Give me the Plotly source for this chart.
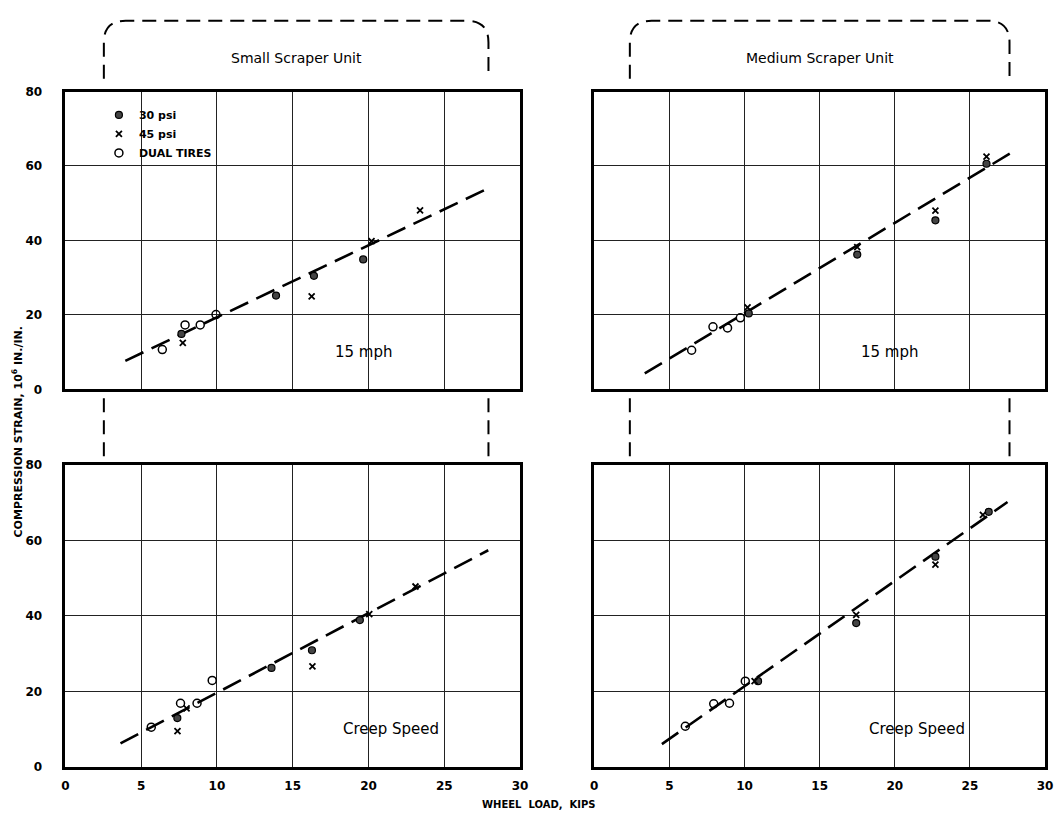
import plotly.graph_objects as go

W, H = 1062, 819

# ---------------- data ----------------
# Small scraper unit, 15 mph
sm15_p30_x = [7.66, 13.9, 16.4, 19.65]
sm15_p30_y = [14.9, 25.2, 30.5, 34.9]
sm15_p45_x = [7.75, 16.25, 20.2, 23.4]
sm15_p45_y = [12.5, 25.0, 39.8, 48.1]
sm15_dual_x = [6.4, 7.9, 8.9, 9.94]
sm15_dual_y = [10.7, 17.3, 17.3, 20.1]
sm15_fit_x = [3.96, 27.7]
sm15_fit_y = [7.65, 53.6]

# Medium scraper unit, 15 mph
md15_p30_x = [10.28, 17.5, 22.7, 26.1]
md15_p30_y = [20.4, 36.2, 45.4, 60.6]
md15_p45_x = [10.2, 17.5, 22.7, 26.1]
md15_p45_y = [22.0, 38.2, 48.0, 62.5]
md15_dual_x = [6.48, 7.9, 8.87, 9.72]
md15_dual_y = [10.5, 16.8, 16.5, 19.2]
md15_fit_x = [3.36, 28.1]
md15_fit_y = [4.3, 64.4]

# Small scraper unit, creep speed
smcr_p30_x = [7.39, 13.6, 16.27, 19.43]
smcr_p30_y = [12.9, 26.2, 30.9, 38.9]
smcr_p45_x = [7.4, 8.0, 16.3, 20.05, 23.1]
smcr_p45_y = [9.45, 15.5, 26.6, 40.5, 47.8]
smcr_dual_x = [5.67, 7.6, 8.69, 9.69]
smcr_dual_y = [10.5, 16.85, 16.85, 22.9]
smcr_fit_x = [3.64, 27.9]
smcr_fit_y = [6.2, 57.4]

# Medium scraper unit, creep speed
mdcr_p30_x = [10.9, 17.43, 22.7, 26.25]
mdcr_p30_y = [22.7, 38.1, 55.7, 67.6]
mdcr_p45_x = [10.67, 17.43, 22.7, 25.86]
mdcr_p45_y = [22.7, 40.3, 53.6, 66.8]
mdcr_dual_x = [6.06, 7.95, 9.0, 10.05]
mdcr_dual_y = [10.75, 16.7, 16.85, 22.7]
mdcr_fit_x = [4.5, 27.5]
mdcr_fit_y = [6.0, 70.2]

x_ticks = [0, 5, 10, 15, 20, 25, 30]
y_ticks = [0, 20, 40, 60, 80]
unit_titles = ["Small Scraper Unit", "Medium Scraper Unit"]
speed_labels = ["15 mph", "15 mph", "Creep Speed", "Creep Speed"]
series_names = ["30 psi", "45 psi", "DUAL TIRES"]

panels = [
    (sm15_p30_x, sm15_p30_y, sm15_p45_x, sm15_p45_y, sm15_dual_x, sm15_dual_y, sm15_fit_x, sm15_fit_y),
    (md15_p30_x, md15_p30_y, md15_p45_x, md15_p45_y, md15_dual_x, md15_dual_y, md15_fit_x, md15_fit_y),
    (smcr_p30_x, smcr_p30_y, smcr_p45_x, smcr_p45_y, smcr_dual_x, smcr_dual_y, smcr_fit_x, smcr_fit_y),
    (mdcr_p30_x, mdcr_p30_y, mdcr_p45_x, mdcr_p45_y, mdcr_dual_x, mdcr_dual_y, mdcr_fit_x, mdcr_fit_y),
]

# ---------------- layout helpers ----------------
def px(x):
    return x / W

def py(y):
    return 1 - y / H

FONT = "DejaVu Sans"
xdoms = [(px(62), px(522)), (px(597), px(1053))]
ydoms = [(py(389), py(86)), (py(773), py(466))]

fig = go.Figure()

for i, (p30x, p30y, p45x, p45y, dx, dy, fx, fy) in enumerate(panels):
    n = "" if i == 0 else str(i + 1)
    xa, ya = "x" + n, "y" + n
    show = i == 0
    fig.add_trace(go.Scatter(x=fx, y=fy, mode="lines", xaxis=xa, yaxis=ya,
                             line=dict(color="black", width=2.6, dash="20px,9px"),
                             showlegend=False, hoverinfo="skip"))
    fig.add_trace(go.Scatter(x=p30x, y=p30y, mode="markers", xaxis=xa, yaxis=ya,
                             name=series_names[0], showlegend=show, legendgroup="a",
                             marker=dict(symbol="circle", size=7, color="#444",
                                         line=dict(color="black", width=1.2))))
    fig.add_trace(go.Scatter(x=p45x, y=p45y, mode="markers", xaxis=xa, yaxis=ya,
                             name=series_names[1], showlegend=show, legendgroup="b",
                             marker=dict(symbol="x-thin", size=6,
                                         line=dict(color="black", width=1.8))))
    fig.add_trace(go.Scatter(x=dx, y=dy, mode="markers", xaxis=xa, yaxis=ya,
                             name=series_names[2], showlegend=show, legendgroup="c",
                             marker=dict(symbol="circle-open", size=8, color="black",
                                         line=dict(width=1.5))))

    col, row = i % 2, i // 2
    axis_common = dict(showline=True, linewidth=2.5, linecolor="black", mirror=True,
                       showgrid=True, gridcolor="#222", gridwidth=1, zeroline=False,
                       ticks="", tickfont=dict(family=FONT, size=12, color="black", weight="bold"))
    fig.layout["xaxis" + n] = dict(axis_common, domain=xdoms[col], range=[0, 30],
                                   tickvals=x_ticks, anchor=ya, ticklabelstandoff=6,
                                   showticklabels=(row == 1))
    fig.layout["yaxis" + n] = dict(axis_common, domain=ydoms[row], range=[0, 80],
                                   tickvals=y_ticks, anchor=xa, ticklabelstandoff=18,
                                   showticklabels=(col == 0))
    fig.add_annotation(x=21.5 if row == 1 else 19.7, y=10, xref=xa, yref=ya,
                       text=speed_labels[i], showarrow=False,
                       xanchor="center", yanchor="middle",
                       font=dict(family=FONT, size=15, color="black"))

# unit brackets and titles
def bracket(x1, x2, ytop, ybot, r=22):
    return (f"M {px(x1)},{py(ybot)} L {px(x1)},{py(ytop + r)} "
            f"Q {px(x1)},{py(ytop)} {px(x1 + r)},{py(ytop)} "
            f"L {px(x2 - r)},{py(ytop)} Q {px(x2)},{py(ytop)} {px(x2)},{py(ytop + r)} "
            f"L {px(x2)},{py(ybot)}")

dash_line = dict(color="black", width=2, dash="14px,8px")
for (x1, x2), title in zip([(101, 490), (633, 1017)], unit_titles):
    fig.add_shape(type="path", path=bracket(x1, x2, 14, 73), xref="paper", yref="paper",
                  line=dash_line)
    fig.add_annotation(x=px((x1 + x2) / 2), y=py(52), xref="paper", yref="paper",
                       text=title, showarrow=False, xanchor="center", yanchor="middle",
                       font=dict(family=FONT, size=14, color="black"))
    for xx in (x1, x2):
        fig.add_shape(type="line", x0=px(xx), x1=px(xx), y0=py(398), y1=py(460),
                      xref="paper", yref="paper", line=dash_line)

fig.add_annotation(x=px(14), y=py(432), xref="paper", yref="paper", textangle=-90,
                   text="COMPRESSION STRAIN, 10<sup>6</sup> IN./IN.", showarrow=False,
                   xanchor="center", yanchor="middle",
                   font=dict(family=FONT, size=11, color="black", weight="bold"))
fig.add_annotation(x=px(541), y=py(811), xref="paper", yref="paper",
                   text="WHEEL  LOAD,  KIPS", showarrow=False,
                   xanchor="center", yanchor="middle",
                   font=dict(family=FONT, size=10, color="black", weight="bold"))

fig.update_layout(
    width=W, height=H, margin=dict(l=0, r=0, t=0, b=0),
    paper_bgcolor="white", plot_bgcolor="white",
    legend=dict(x=px(96), y=py(95), xanchor="left", yanchor="top",
                bgcolor="rgba(0,0,0,0)", tracegroupgap=0, itemwidth=30,
                font=dict(family=FONT, size=11, color="black", weight="bold")),
)

fig.write_html("out.html")
